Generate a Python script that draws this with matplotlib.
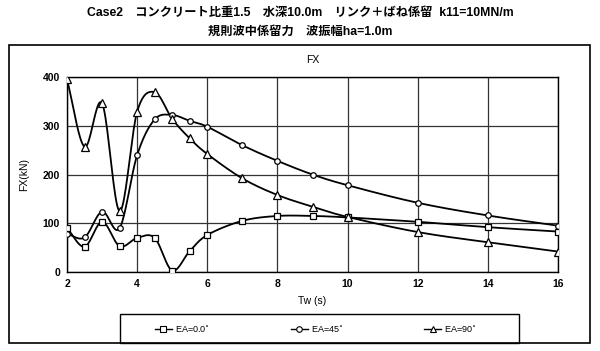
import numpy as np
import matplotlib
matplotlib.use("Agg")
import matplotlib.pyplot as plt
from matplotlib.patches import Rectangle
from matplotlib.lines import Line2D

plt.rcParams['font.family'] = ['Liberation Sans', 'Noto Sans CJK JP', 'DejaVu Sans']

tw = [2, 2.5, 3, 3.5, 4, 4.5, 5, 5.5, 6, 7, 8, 9, 10, 12, 14, 16]
fx_ea0 = [90, 52, 103, 53, 70, 70, 3, 43, 76, 105, 115, 115, 112, 103, 92, 83]
fx_ea45 = [78, 71, 124, 90, 240, 313, 322, 310, 298, 260, 228, 200, 178, 142, 116, 95]
fx_ea90 = [395, 257, 346, 125, 329, 369, 314, 274, 242, 192, 158, 134, 113, 82, 61, 42]
labels = ["EA=0.0$^{\\circ}$", "EA=45$^{\\circ}$", "EA=90$^{\\circ}$"]
markers = ["s", "o", "^"]
xticks = [2, 4, 6, 8, 10, 12, 14, 16]
yticks = [0, 100, 200, 300, 400]

title1 = "Case2　コンクリート比重1.5　水深10.0m　リンク＋ばね係留  k11=10MN/m"
title2 = "規則波中係留力　波振幅ha=1.0m"


def smooth(x, y, n=20, sx=14.0, sy=400.0):
    # Catmull-Rom style smoothing (like spreadsheet smoothed lines)
    x = np.asarray(x, float) / sx
    y = np.asarray(y, float) / sy
    px = np.concatenate([[2 * x[0] - x[1]], x, [2 * x[-1] - x[-2]]])
    py = np.concatenate([[2 * y[0] - y[1]], y, [2 * y[-1] - y[-2]]])
    ox, oy = [], []
    t = np.linspace(0, 1, n, endpoint=False)
    for i in range(1, len(px) - 2):
        p0, p1, p2, p3 = (np.array([px[j], py[j]]) for j in (i - 1, i, i + 1, i + 2))
        c1 = p1 + (p2 - p0) / 6.0
        c2 = p2 - (p3 - p1) / 6.0
        b = ((1 - t) ** 3)[:, None] * p1 + (3 * (1 - t) ** 2 * t)[:, None] * c1 \
            + (3 * (1 - t) * t ** 2)[:, None] * c2 + (t ** 3)[:, None] * p2
        ox.extend(b[:, 0]); oy.extend(b[:, 1])
    ox.append(x[-1]); oy.append(y[-1])
    return np.array(ox) * sx, np.array(oy) * sy


fig = plt.figure(figsize=(6.0, 3.51), dpi=100)
ax = fig.add_axes([0.1117, 0.225, 0.8183, 0.5556])

handles = []
for ys, m, lab in zip([fx_ea0, fx_ea45, fx_ea90], markers, labels):
    sx_, sy_ = smooth(tw, ys)
    ax.plot(sx_, sy_, color='black', lw=1.3, zorder=3)
    ms = 5 if m == 's' else (4 if m == 'o' else 5.5)
    ax.plot(tw, ys, linestyle='none', marker=m, ms=ms, mfc='white', mec='black', mew=0.9, zorder=4)
    handles.append(Line2D([], [], color='black', lw=1.0, marker=m, ms=4, mfc='white', mec='black', mew=0.8, label=lab))

ax.set_xlim(2, 16)
ax.set_ylim(0, 400)
ax.set_xticks(xticks)
ax.set_yticks(yticks)
ax.tick_params(length=0, labelsize=7.5, pad=5)
for lbl in ax.get_xticklabels() + ax.get_yticklabels():
    lbl.set_fontweight('bold')
ax.grid(True, color='#333333', lw=0.9)
ax.set_axisbelow(True)
for s in ax.spines.values():
    s.set_color('black'); s.set_linewidth(1.0)
ax.set_xlabel("Tw (s)", fontsize=7.5, labelpad=5)
ax.set_ylabel("FX(kN)", fontsize=7.5, labelpad=10)
ax.set_title("FX", fontsize=7.5, pad=10)

fig.text(0.5, 1 - 13 / 351, title1, ha='center', va='center', fontsize=8.8, fontweight='bold')
fig.text(0.5, 1 - 32 / 351, title2, ha='center', va='center', fontsize=8.8, fontweight='bold')

fig.patches.append(Rectangle((0.015, 0.0228), 0.968, 0.849, transform=fig.transFigure,
                             fill=False, ec='black', lw=1.2))
fig.patches.append(Rectangle((0.2, 0.0228), 0.665, 0.0826, transform=fig.transFigure,
                             fill=False, ec='black', lw=1.0))
leg = fig.legend(handles=handles, loc='center', bbox_to_anchor=(0.526, 0.064),
                 ncol=3, fontsize=6.5, frameon=False,
                 handlelength=1.9, handletextpad=0.3, columnspacing=9.0)

fig.savefig("out.png", dpi=100)
